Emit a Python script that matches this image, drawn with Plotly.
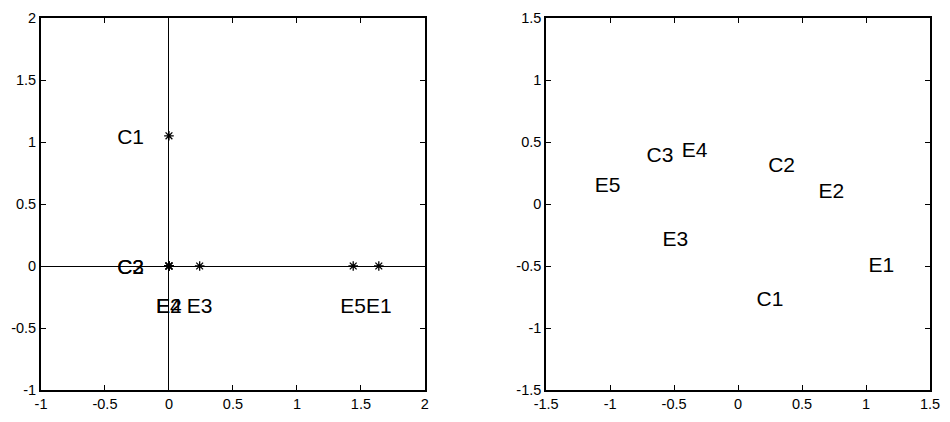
import plotly.graph_objects as go
from plotly.subplots import make_subplots

# Left panel: projection of the points onto the first two axes
left_names = ["C1", "C2", "C3", "E1", "E2", "E3", "E4", "E5"]
left_x = [0.0, 0.0, 0.0, 1.64, 0.0, 0.24, 0.0, 1.44]
left_y = [1.05, 0.0, 0.0, 0.0, 0.0, 0.0, 0.0, 0.0]
# label offsets: C labels sit to the left, E labels sit below
left_label_dx = [-0.3, -0.3, -0.3, 0.0, 0.0, 0.0, 0.0, 0.0]
left_label_dy = [-0.02, -0.02, -0.02, -0.34, -0.34, -0.34, -0.34, -0.34]

# Right panel: label positions only
right_names = ["C1", "C2", "C3", "E1", "E2", "E3", "E4", "E5"]
right_x = [0.25, 0.34, -0.61, 1.12, 0.73, -0.49, -0.34, -1.02]
right_y = [-0.78, 0.30, 0.38, -0.51, 0.09, -0.30, 0.42, 0.14]

left_ticks_x = [-1, -0.5, 0, 0.5, 1, 1.5, 2]
left_ticks_y = [-1, -0.5, 0, 0.5, 1, 1.5, 2]
right_ticks = [-1.5, -1, -0.5, 0, 0.5, 1, 1.5]

FONT = "Liberation Sans, Arial, Helvetica, sans-serif"


def fmt(v):
    return "%g" % v


fig = make_subplots(rows=1, cols=2, horizontal_spacing=0.1364)

fig.add_trace(go.Scatter(
    x=left_x, y=left_y, mode="markers",
    marker=dict(symbol="asterisk-open", size=8, color="black",
                line=dict(color="black", width=1.3)),
    hoverinfo="skip", showlegend=False), row=1, col=1)

fig.add_trace(go.Scatter(
    x=[x + dx for x, dx in zip(left_x, left_label_dx)],
    y=[y + dy for y, dy in zip(left_y, left_label_dy)],
    mode="text", text=left_names,
    textfont=dict(family=FONT, size=21, color="black"),
    textposition="middle center", hoverinfo="skip", showlegend=False), row=1, col=1)

fig.add_trace(go.Scatter(
    x=right_x, y=right_y, mode="text", text=right_names,
    textfont=dict(family=FONT, size=21, color="black"),
    textposition="middle center", hoverinfo="skip", showlegend=False), row=1, col=2)

axis_common = dict(
    showgrid=False, showline=True, linecolor="black", linewidth=1.8, mirror="ticks",
    ticks="inside", ticklen=5, tickcolor="black", tickwidth=1,
    tickfont=dict(family=FONT, size=14.5, color="black"),
)

fig.update_xaxes(range=[-1, 2], tickvals=left_ticks_x,
                 ticktext=[fmt(v) for v in left_ticks_x],
                 zeroline=True, zerolinecolor="black", zerolinewidth=1.2,
                 domain=[0, 0.4318], **axis_common, row=1, col=1)
fig.update_yaxes(range=[-1, 2], tickvals=left_ticks_y,
                 ticktext=[fmt(v) for v in left_ticks_y],
                 zeroline=True, zerolinecolor="black", zerolinewidth=1.2,
                 **axis_common, row=1, col=1)
fig.update_xaxes(range=[-1.5, 1.5], tickvals=right_ticks,
                 ticktext=[fmt(v) for v in right_ticks], zeroline=False,
                 domain=[0.5682, 1], **axis_common, row=1, col=2)
fig.update_yaxes(range=[-1.5, 1.5], tickvals=right_ticks,
                 ticktext=[fmt(v) for v in right_ticks], zeroline=False,
                 **axis_common, row=1, col=2)

fig.update_layout(
    width=950, height=422,
    margin=dict(l=41, r=15, t=10, b=26),
    paper_bgcolor="white", plot_bgcolor="white",
    font=dict(family=FONT, color="black"),
)

fig.write_html("out.html")
